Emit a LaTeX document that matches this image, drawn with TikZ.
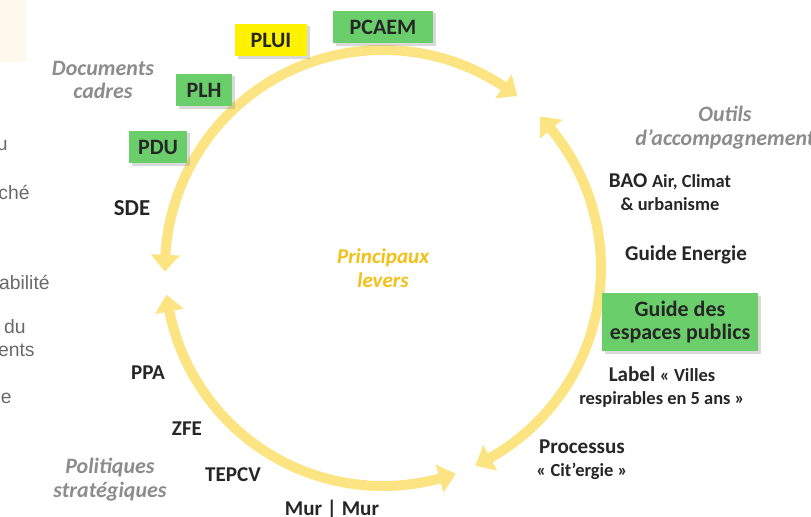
\documentclass[tikz,border=0pt]{standalone}
\usepackage{fontspec}
\setmainfont{Carlito}
\newfontfamily\arialfont{Liberation Sans}
\usetikzlibrary{arrows.meta,bending,shadows,calc}
\definecolor{ringyellow}{RGB}{253,228,130}
\definecolor{boxgreen}{RGB}{106,206,106}
\definecolor{boxyellow}{RGB}{255,242,0}
\definecolor{leverscol}{RGB}{242,192,24}
\definecolor{catgray}{RGB}{140,140,140}
\definecolor{txtdark}{RGB}{38,38,38}
\definecolor{leftgray}{RGB}{105,105,105}
\definecolor{panelbeige}{RGB}{255,249,235}
\newcommand{\subtxt}{\fontsize{10.5}{12}\selectfont}

\begin{document}
\begin{tikzpicture}[x=0.02cm, y=0.02cm,
    ring/.style = {line width=0.2cm, draw=ringyellow, >={Triangle[width=0.56cm,length=0.34cm,bend]}, <->},
    box/.style = {fill=boxgreen, text=txtdark, font=\bfseries\fontsize{12.5}{13}\selectfont, align=center,
      minimum height=0.65cm, inner sep=0pt, drop shadow={shadow xshift=1.5pt, shadow yshift=-1.5pt, opacity=0.3}},
    lab/.style = {text=txtdark, font=\bfseries\fontsize{12}{13}\selectfont, align=center},
    cat/.style = {text=catgray, font=\bfseries\itshape\fontsize{12.5}{13.6}\selectfont, align=center},
    frag/.style = {text=leftgray, font=\arialfont\fontsize{11}{13}\selectfont, anchor=east, inner sep=0pt}]
  \useasboundingbox (0,0) rectangle (811,517);

  % cut-off panel on the left
  \fill[panelbeige] (0,455) rectangle (26,517);
  \node[frag] (f1) at (8,372) {u};
  \node[frag] (f2) at (30,325) {ché};
  \node[frag] (f3) at (50,235) {abilité};
  \node[frag] (f4) at (26,190) {du};
  \node[frag] (f5) at (35,167) {ents};
  \node[frag] (f6) at (12,120) {le};

  % the ring
  \coordinate (c) at (383,249);
  \draw[ring] ($(c)+(52:218)$) arc[start angle=52, end angle=181, radius=218];
  \draw[ring] ($(c)+(-65:218)$) arc[start angle=-65, end angle=44, radius=218];
  \draw[ring] ($(c)+(187:218)$) arc[start angle=187, end angle=289.5, radius=218];

  \node[text=leverscol, font=\bfseries\itshape\fontsize{12}{13.6}\selectfont, align=center] (levers) at (c) {Principaux\\levers};

  % documents cadres
  \node[cat] (docs) at (103,437) {Documents\\cadres};
  \node[box, minimum width=2cm] (pcaem) at (383,490) {PCAEM};
  \node[box, fill=boxyellow, minimum width=1.44cm] (plui) at (271,477) {PLUI};
  \node[box, minimum width=1.12cm] (plh) at (204,427) {PLH};
  \node[box, minimum width=1.16cm] (pdu) at (158,370) {PDU};
  \node[lab, font=\bfseries\fontsize{13}{14}\selectfont] (sde) at (132,309) {SDE};

  % outils d'accompagnement
  \node[cat] (outils) at (725,389) {Outils\\d’accompagnement};
  \node[lab] (bao) at (670,325) {BAO {\subtxt Air, Climat}\\{\subtxt \& urbanisme}};
  \node[lab] (energie) at (686,262) {Guide Energie};
  \node[box, minimum width=3.12cm, minimum height=1.16cm] (espaces) at (680,195) {Guide des\\espaces publics};
  \node[lab] (label) at (662,130) {Label {\subtxt « Villes}\\{\subtxt respirables en 5 ans »}};
  \node[lab] (processus) at (582,57) {Processus\\{\subtxt « Cit’ergie »}};

  % politiques strategiques
  \node[lab] (murmur) at (332,7) {Mur | Mur};
  \node[lab] (tepcv) at (233,42) {TEPCV};
  \node[lab] (zfe) at (187,88) {ZFE};
  \node[lab] (ppa) at (148,144) {PPA};
  \node[cat] (politiques) at (110,37) {Politiques\\stratégiques};
\end{tikzpicture}
\end{document}
